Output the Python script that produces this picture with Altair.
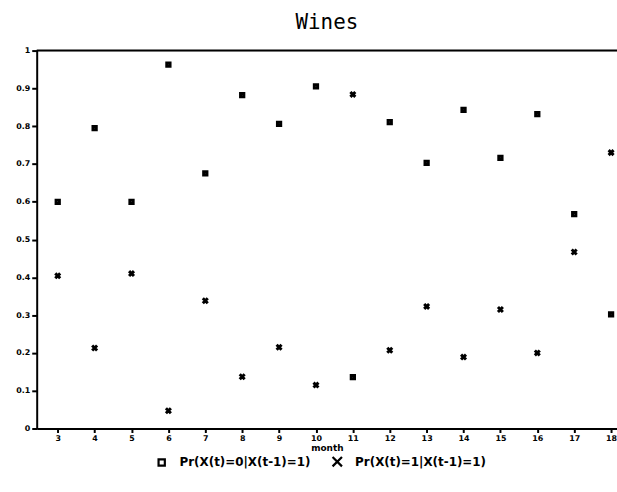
import altair as alt
import pandas as pd

months = list(range(3, 19))
p_zero = [0.600, 0.795, 0.600, 0.963, 0.675, 0.882, 0.806, 0.905,
          0.136, 0.811, 0.703, 0.843, 0.716, 0.832, 0.567, 0.302]
p_one = [0.404, 0.213, 0.410, 0.047, 0.338, 0.137, 0.215, 0.115,
         0.884, 0.207, 0.323, 0.189, 0.315, 0.200, 0.467, 0.730]
series_names = ["Pr(X(t)=0|X(t-1)=1)", "Pr(X(t)=1|X(t-1)=1)"]
y_ticks = [round(i * 0.1, 1) for i in range(11)]

rows = []
for m, a, b in zip(months, p_zero, p_one):
    rows.append({"month": m, "p": a, "series": series_names[0]})
    rows.append({"month": m, "p": b, "series": series_names[1]})
df = pd.DataFrame(rows)

XSHAPE = "M-1.5,-1.5L1.5,1.5M-1.5,1.5L1.5,-1.5"

x_enc = alt.X("month:Q",
              scale=alt.Scale(domain=[2.43, 18.16], nice=False, zero=False),
              axis=alt.Axis(values=months, format="d", title="month", grid=False,
                            domainColor="black", domainWidth=2, tickColor="black", tickWidth=2,
                            tickSize=4, labelFont="DejaVu Sans", labelFontWeight="bold",
                            labelFontSize=8, labelColor="black", labelPadding=2,
                            titleFont="DejaVu Sans", titleFontSize=9, titleFontWeight="bold",
                            titleColor="black", titlePadding=1))


def y_enc(field):
    return alt.Y(field,
                 scale=alt.Scale(domain=[0, 1], nice=False),
                 axis=alt.Axis(values=y_ticks, title=None, grid=False,
                               labelExpr="datum.value == 0 ? '0' : (datum.value == 1 ? '1' : format(datum.value, '.1f'))",
                               domainColor="black", domainWidth=2, tickColor="black", tickWidth=2,
                               tickSize=5, labelFont="DejaVu Sans", labelFontWeight="bold",
                               labelFontSize=8, labelColor="black", labelPadding=2))


points = alt.Chart(df).mark_point(filled=False, size=11, strokeWidth=3, opacity=1, color="black").encode(
    x=x_enc,
    y=y_enc("p:Q"),
    shape=alt.Shape("series:N",
                    scale=alt.Scale(domain=series_names, range=["square", XSHAPE]),
                    legend=alt.Legend(title=None, orient="none", direction="horizontal",
                                      legendX=120, legendY=408,
                                      labelFont="DejaVu Sans", labelFontSize=12,
                                      labelFontWeight="bold", labelColor="black",
                                      symbolSize=40, symbolStrokeWidth=2.2,
                                      symbolStrokeColor="black", symbolFillColor="transparent",
                                      columnPadding=16, labelOffset=12)),
)

top_line = alt.Chart(pd.DataFrame({"v": [1]})).mark_rule(color="black", strokeWidth=2).encode(
    y=y_enc("v:Q")
)

chart = alt.layer(points, top_line).properties(
    width=585, height=381,
    title=alt.TitleParams("Wines", font="DejaVu Sans Mono", fontSize=21,
                          fontWeight="normal", color="black", anchor="middle", offset=14),
    padding={"left": 37, "top": 49, "right": 0, "bottom": 62},
    autosize="none",
).configure_view(stroke=None).configure(background="white")

chart.save("out.html", embed_options={"renderer": "svg", "actions": False})
